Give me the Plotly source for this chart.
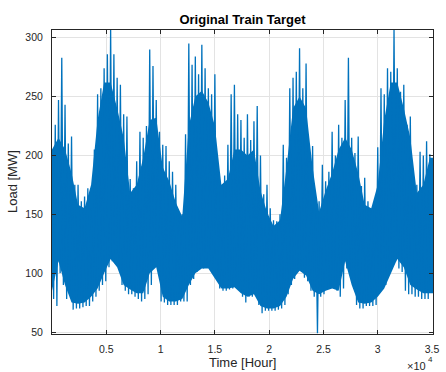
import numpy as np
import plotly.graph_objects as go

hours_max = list(range(0, 35101, 300))
hours_min = [h + 150 for h in hours_max]

# Local maxima (upper envelope) of the load [MW]
load_max = [
    200, 226, 247, 283, 243, 210, 216, 175, 175, 161,
    165, 172, 155, 205, 252, 257, 274, 286, 307, 286,
    266, 260, 235, 233, 180, 172, 195, 220, 215, 225,
    290, 276, 247, 220, 209, 208, 195, 186, 175, 150,
    150, 218, 295, 277, 284, 269, 294, 274, 257, 252,
    269, 191, 162, 183, 209, 252, 260, 235, 230, 215,
    235, 213, 229, 242, 200, 167, 175, 155, 145, 144,
    150, 209, 198, 257, 266, 271, 291, 257, 278, 195,
    208, 154, 161, 192, 178, 186, 220, 200, 226, 215,
    247, 283, 215, 202, 216, 174, 181, 161, 153, 155,
    207, 257, 252, 274, 271, 307, 274, 254, 260, 226,
    233, 172, 175, 203, 200, 212, 201, 196,
]

# Local minima (lower envelope) of the load [MW]
load_min = [
    78, 72, 100, 90, 78, 85, 69, 70, 70, 71,
    72, 72, 76, 80, 85, 90, 93, 105, 110, 108,
    104, 90, 85, 82, 82, 80, 78, 76, 78, 82,
    90, 110, 112, 76, 75, 73, 73, 73, 73, 76,
    76, 76, 90, 95, 101, 104, 104, 107, 106, 104,
    95, 87, 85, 85, 86, 87, 90, 88, 80, 75,
    80, 80, 85, 73, 66, 68, 68, 68, 68, 69,
    70, 73, 82, 90, 95, 104, 104, 96, 93, 85,
    80, 49, 80, 82, 87, 87, 93, 85, 80, 87,
    104, 100, 90, 73, 70, 70, 72, 72, 72, 73,
    83, 87, 90, 99, 110, 110, 104, 101, 85, 82,
    82, 80, 80, 78, 78, 78, 85, 85,
]

# Densely overplotted (solid) part of the trace: its top and bottom edges
hours_core = list(range(0, 35401, 600))
core_top = [
    205, 215, 205, 185, 158, 155, 175, 230, 262, 262,
    240, 215, 168, 175, 198, 230, 232, 190, 178, 160,
    148, 225, 250, 255, 245, 225, 175, 180, 205, 205,
    200, 205, 170, 152, 140, 145, 190, 240, 250, 240,
    190, 152, 170, 185, 205, 215, 205, 185, 158, 155,
    175, 230, 262, 262, 240, 215, 168, 175, 198, 198,
]
core_bottom = [
    85, 110, 90, 75, 74, 75, 80, 87, 100, 112,
    105, 90, 86, 83, 83, 100, 105, 80, 76, 76,
    78, 90, 100, 104, 104, 95, 87, 87, 88, 83,
    80, 82, 72, 70, 70, 72, 80, 95, 102, 98,
    85, 82, 85, 87, 85, 110, 90, 75, 74, 75,
    80, 87, 100, 112, 105, 90, 86, 83, 83, 83,
]

x_tick_vals = [5000, 10000, 15000, 20000, 25000, 30000, 35000]
x_tick_text = ["0.5", "1", "1.5", "2", "2.5", "3", "3.5"]
y_tick_vals = [50, 100, 150, 200, 250, 300]

# interleave max / min readings in time order
xs, ys = [], []
for hx, vx, hn, vn in zip(hours_max, load_max, hours_min, load_min):
    xs += [hx, hn]
    ys += [vx, vn]

BLUE = "#0072BD"
AX = "#262626"
GRID = "#e3e3e3"
FONT = "Liberation Sans, Arial, Helvetica, sans-serif"

fig = go.Figure()
fig.add_trace(go.Scatter(x=hours_core, y=core_bottom, mode="lines",
                         line=dict(color=BLUE, width=0),
                         showlegend=False, hoverinfo="skip"))
fig.add_trace(go.Scatter(x=hours_core, y=core_top, mode="lines",
                         line=dict(color=BLUE, width=0), fill="tonexty",
                         fillcolor=BLUE, showlegend=False, hoverinfo="skip"))
fig.add_trace(go.Scatter(x=xs, y=ys, mode="lines",
                         line=dict(color=BLUE, width=1.3),
                         showlegend=False, hoverinfo="skip"))

axis_common = dict(
    showline=True, linecolor=AX, linewidth=1, mirror="allticks",
    ticks="inside", ticklen=4, tickcolor=AX, tickwidth=1,
    showgrid=True, gridcolor=GRID, gridwidth=1, zeroline=False,
    tickfont=dict(family=FONT, size=10.5, color=AX),
)

fig.update_layout(
    width=446, height=372,
    margin=dict(l=52, r=7, t=30, b=38),
    paper_bgcolor="white", plot_bgcolor="white",
    font=dict(family=FONT, color=AX),
    title=dict(text="<b>Original Train Target</b>", x=0.5, xref="paper",
               xanchor="center", y=1 - 19 / 372, yref="container",
               yanchor="middle", font=dict(family=FONT, size=13, color="black")),
    xaxis=dict(range=[0, 35090], tickvals=x_tick_vals, ticktext=x_tick_text,
               ticklabelstandoff=5, **axis_common),
    yaxis=dict(range=[48.3, 306.5], tickvals=y_tick_vals,
               ticklabelstandoff=6, **axis_common),
    annotations=[
        dict(text="Time [Hour]", x=0.5, y=-0.094, xref="paper", yref="paper",
             xanchor="center", yanchor="middle", showarrow=False,
             font=dict(family=FONT, size=13, color=AX)),
        dict(text="Load [MW]", x=-0.1036, y=0.5016, xref="paper", yref="paper",
             xanchor="center", yanchor="middle", showarrow=False, textangle=-90,
             font=dict(family=FONT, size=13, color=AX)),
        dict(text="\u00d710", x=0.958, y=-0.105, xref="paper", yref="paper",
             xanchor="center", yanchor="middle", showarrow=False,
             font=dict(family=FONT, size=11, color=AX)),
        dict(text="4", x=0.994, y=-0.084, xref="paper", yref="paper",
             xanchor="center", yanchor="middle", showarrow=False,
             font=dict(family=FONT, size=8, color=AX)),
    ],
)

fig.write_html("out.html")
